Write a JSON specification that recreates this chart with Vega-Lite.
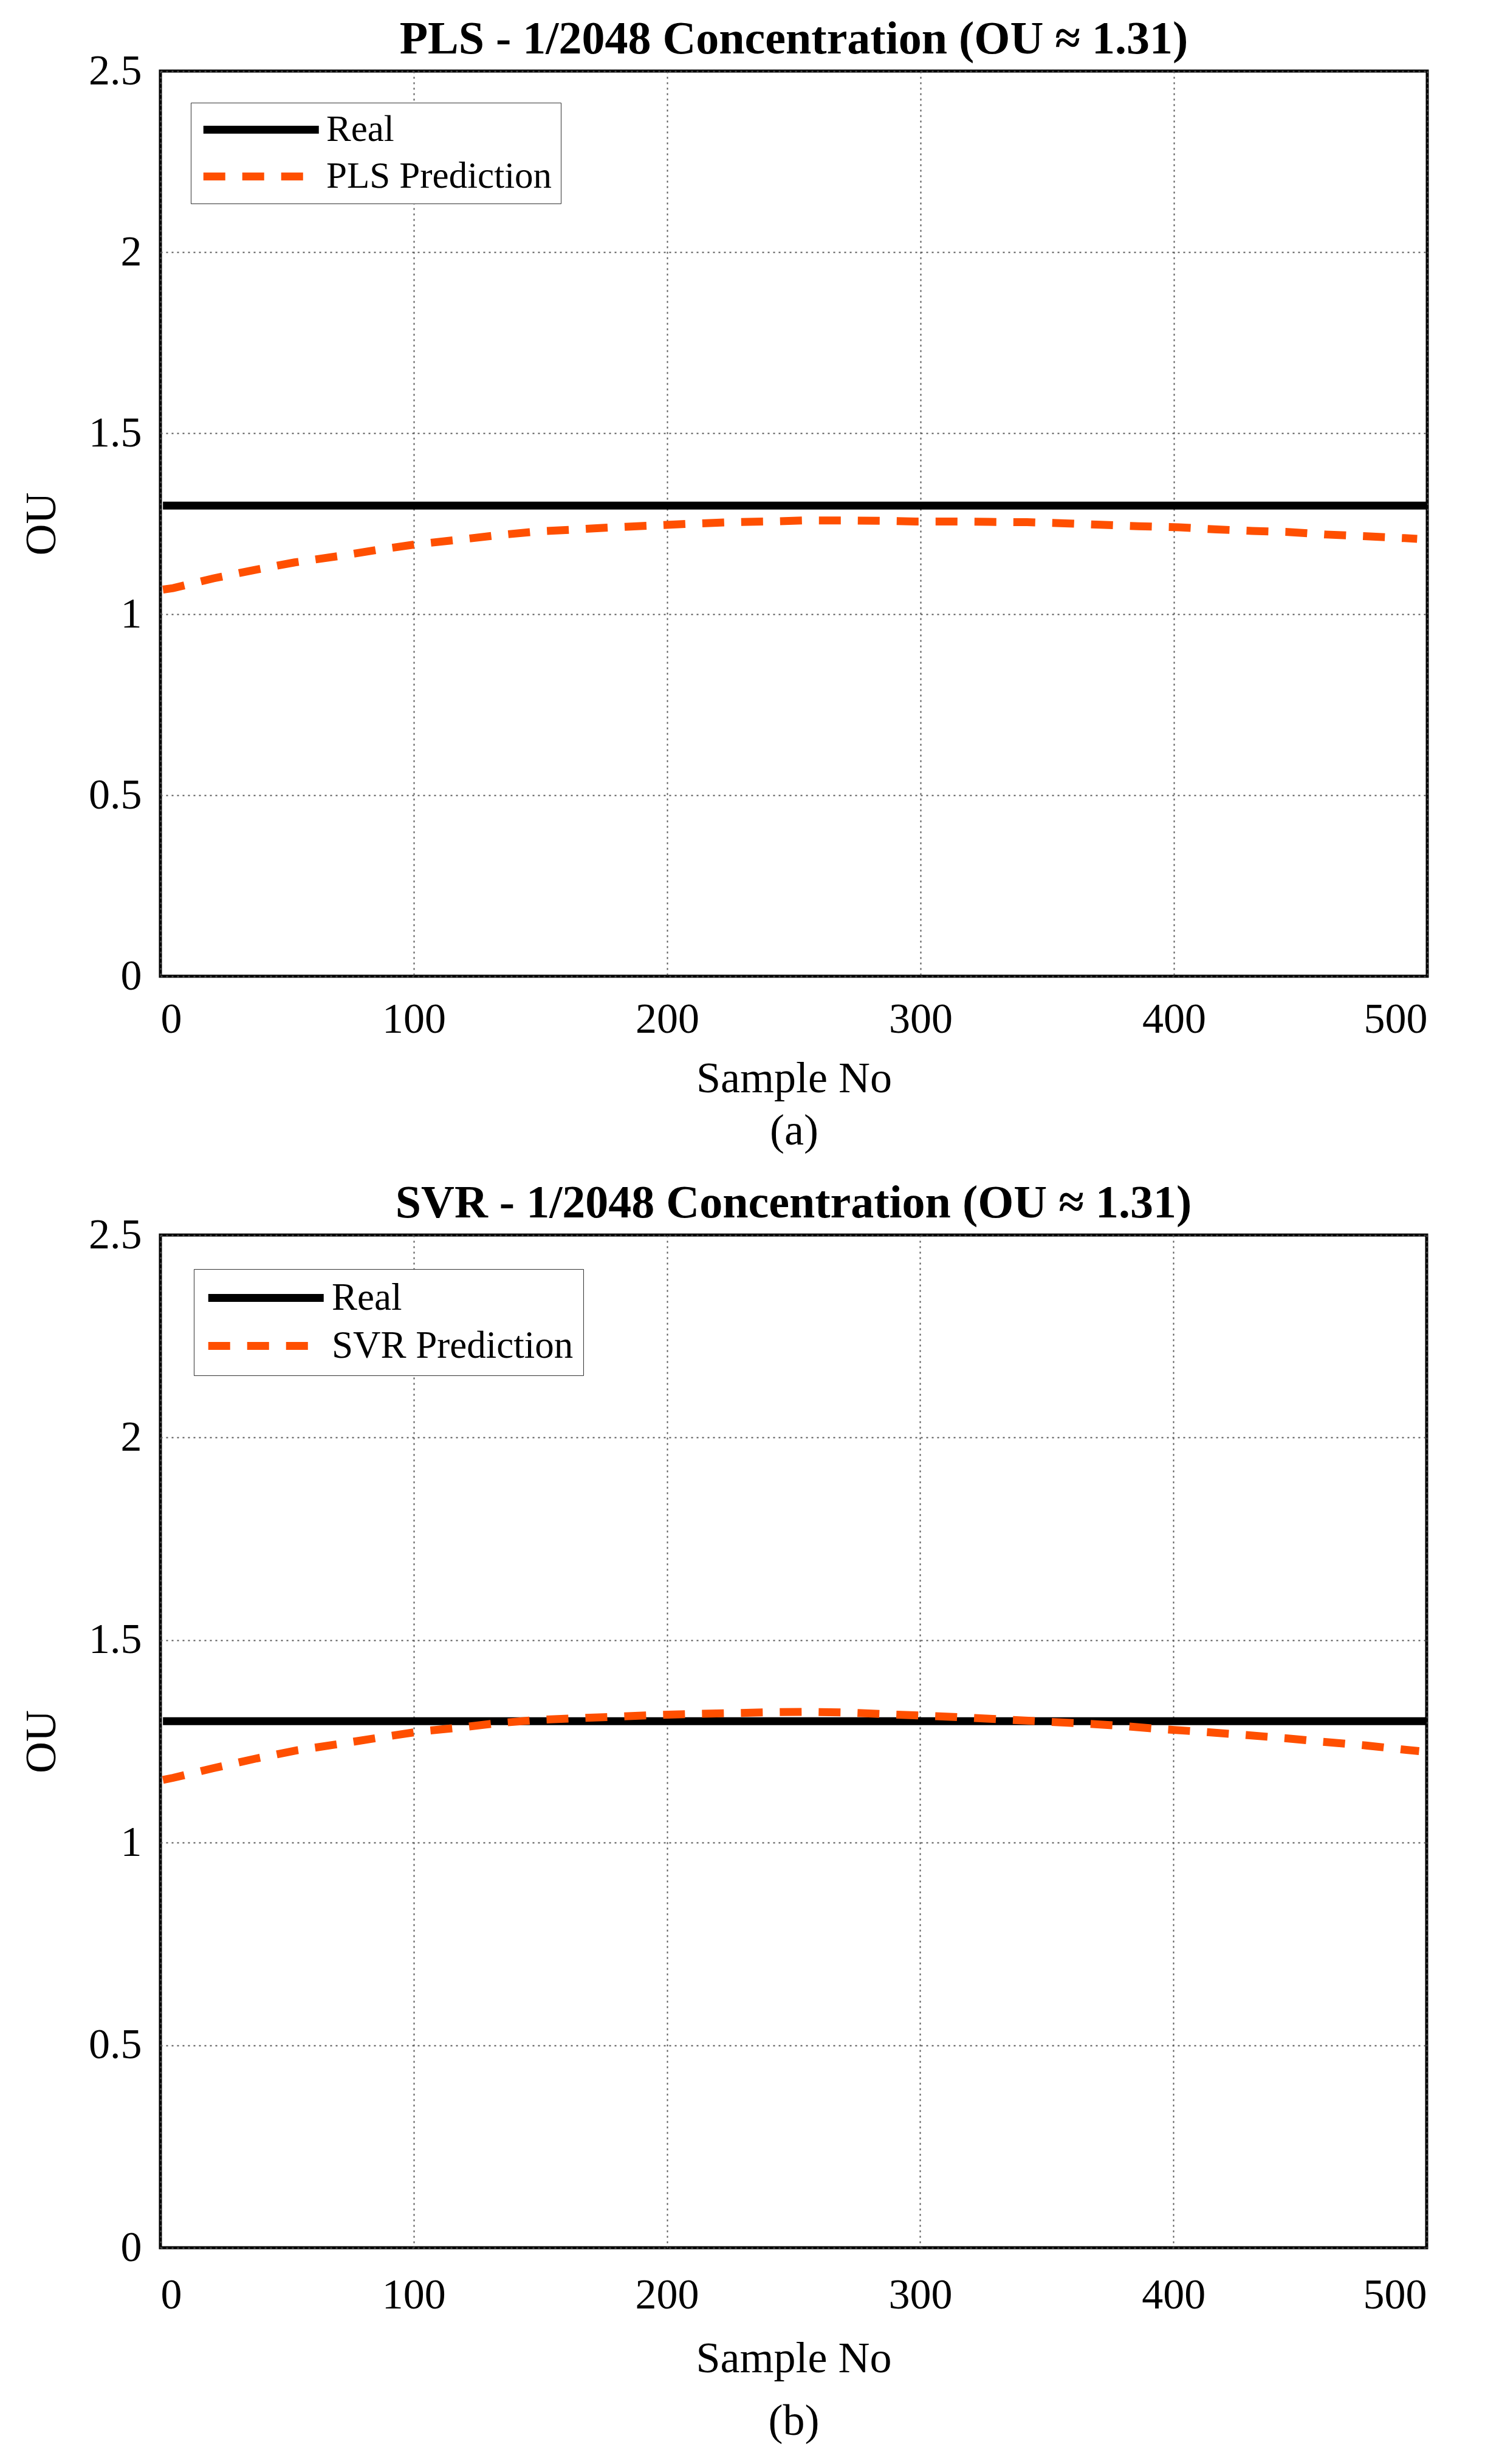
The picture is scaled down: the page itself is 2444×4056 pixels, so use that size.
{
  "$schema": "https://vega.github.io/schema/vega-lite/v6.json",
  "padding": {"left": 30, "top": 24, "right": 40, "bottom": 10},
  "background": "white",
  "spacing": 40,
  "resolve": {
    "scale": {"color": "independent", "strokeDash": "independent"},
    "legend": {"color": "independent", "strokeDash": "independent"}
  },
  "config": {
    "font": "Liberation Serif",
    "view": {"stroke": "black", "strokeWidth": 5},
    "axis": {
      "domain": false,
      "ticks": false,
      "grid": true,
      "gridColor": "#555555",
      "gridDash": [3, 6],
      "gridWidth": 2,
      "labelFont": "Liberation Serif",
      "labelFontSize": 70,
      "labelColor": "black",
      "labelPadding": 31,
      "titleFont": "Liberation Serif",
      "titleFontSize": 72,
      "titleFontWeight": "normal",
      "titleColor": "black"
    },
    "title": {
      "font": "Liberation Serif",
      "fontSize": 76,
      "fontWeight": "bold",
      "color": "black",
      "frame": "group",
      "offset": -22
    },
    "legend": {
      "symbolType": "M-1,0H7",
      "symbolSize": 2256,
      "symbolStrokeWidth": 13,
      "labelFont": "Liberation Serif",
      "labelFontSize": 61,
      "labelColor": "black",
      "labelLimit": 0,
      "labelOffset": 148,
      "strokeColor": "#333333",
      "fillColor": "white",
      "padding": 14,
      "rowPadding": 15
    }
  },
  "datasets": {
    "pls": [
      {"sample": 1, "ou": 1.30, "series": "Real"},
      {"sample": 500, "ou": 1.30, "series": "Real"},
      {"sample": 1, "ou": 1.068, "series": "PLS Prediction"},
      {"sample": 5, "ou": 1.072, "series": "PLS Prediction"},
      {"sample": 21, "ou": 1.099, "series": "PLS Prediction"},
      {"sample": 37, "ou": 1.122, "series": "PLS Prediction"},
      {"sample": 53, "ou": 1.143, "series": "PLS Prediction"},
      {"sample": 70, "ou": 1.160, "series": "PLS Prediction"},
      {"sample": 85, "ou": 1.177, "series": "PLS Prediction"},
      {"sample": 101, "ou": 1.193, "series": "PLS Prediction"},
      {"sample": 117, "ou": 1.205, "series": "PLS Prediction"},
      {"sample": 133, "ou": 1.218, "series": "PLS Prediction"},
      {"sample": 148, "ou": 1.228, "series": "PLS Prediction"},
      {"sample": 164, "ou": 1.234, "series": "PLS Prediction"},
      {"sample": 179, "ou": 1.240, "series": "PLS Prediction"},
      {"sample": 195, "ou": 1.245, "series": "PLS Prediction"},
      {"sample": 210, "ou": 1.250, "series": "PLS Prediction"},
      {"sample": 225, "ou": 1.254, "series": "PLS Prediction"},
      {"sample": 240, "ou": 1.256, "series": "PLS Prediction"},
      {"sample": 255, "ou": 1.259, "series": "PLS Prediction"},
      {"sample": 269, "ou": 1.259, "series": "PLS Prediction"},
      {"sample": 284, "ou": 1.258, "series": "PLS Prediction"},
      {"sample": 298, "ou": 1.256, "series": "PLS Prediction"},
      {"sample": 312, "ou": 1.256, "series": "PLS Prediction"},
      {"sample": 327, "ou": 1.255, "series": "PLS Prediction"},
      {"sample": 342, "ou": 1.254, "series": "PLS Prediction"},
      {"sample": 357, "ou": 1.251, "series": "PLS Prediction"},
      {"sample": 371, "ou": 1.247, "series": "PLS Prediction"},
      {"sample": 386, "ou": 1.243, "series": "PLS Prediction"},
      {"sample": 402, "ou": 1.240, "series": "PLS Prediction"},
      {"sample": 417, "ou": 1.234, "series": "PLS Prediction"},
      {"sample": 431, "ou": 1.230, "series": "PLS Prediction"},
      {"sample": 445, "ou": 1.227, "series": "PLS Prediction"},
      {"sample": 460, "ou": 1.220, "series": "PLS Prediction"},
      {"sample": 476, "ou": 1.215, "series": "PLS Prediction"},
      {"sample": 491, "ou": 1.210, "series": "PLS Prediction"},
      {"sample": 496, "ou": 1.208, "series": "PLS Prediction"}
    ],
    "svr": [
      {"sample": 1, "ou": 1.30, "series": "Real"},
      {"sample": 500, "ou": 1.30, "series": "Real"},
      {"sample": 1, "ou": 1.155, "series": "SVR Prediction"},
      {"sample": 5, "ou": 1.160, "series": "SVR Prediction"},
      {"sample": 21, "ou": 1.184, "series": "SVR Prediction"},
      {"sample": 38, "ou": 1.208, "series": "SVR Prediction"},
      {"sample": 54, "ou": 1.228, "series": "SVR Prediction"},
      {"sample": 70, "ou": 1.243, "series": "SVR Prediction"},
      {"sample": 86, "ou": 1.259, "series": "SVR Prediction"},
      {"sample": 102, "ou": 1.274, "series": "SVR Prediction"},
      {"sample": 118, "ou": 1.284, "series": "SVR Prediction"},
      {"sample": 133, "ou": 1.295, "series": "SVR Prediction"},
      {"sample": 149, "ou": 1.303, "series": "SVR Prediction"},
      {"sample": 164, "ou": 1.307, "series": "SVR Prediction"},
      {"sample": 180, "ou": 1.311, "series": "SVR Prediction"},
      {"sample": 195, "ou": 1.315, "series": "SVR Prediction"},
      {"sample": 211, "ou": 1.318, "series": "SVR Prediction"},
      {"sample": 227, "ou": 1.320, "series": "SVR Prediction"},
      {"sample": 242, "ou": 1.322, "series": "SVR Prediction"},
      {"sample": 256, "ou": 1.323, "series": "SVR Prediction"},
      {"sample": 272, "ou": 1.321, "series": "SVR Prediction"},
      {"sample": 287, "ou": 1.317, "series": "SVR Prediction"},
      {"sample": 303, "ou": 1.313, "series": "SVR Prediction"},
      {"sample": 318, "ou": 1.309, "series": "SVR Prediction"},
      {"sample": 333, "ou": 1.304, "series": "SVR Prediction"},
      {"sample": 349, "ou": 1.299, "series": "SVR Prediction"},
      {"sample": 365, "ou": 1.294, "series": "SVR Prediction"},
      {"sample": 380, "ou": 1.288, "series": "SVR Prediction"},
      {"sample": 396, "ou": 1.280, "series": "SVR Prediction"},
      {"sample": 413, "ou": 1.273, "series": "SVR Prediction"},
      {"sample": 428, "ou": 1.266, "series": "SVR Prediction"},
      {"sample": 444, "ou": 1.258, "series": "SVR Prediction"},
      {"sample": 459, "ou": 1.249, "series": "SVR Prediction"},
      {"sample": 476, "ou": 1.240, "series": "SVR Prediction"},
      {"sample": 492, "ou": 1.229, "series": "SVR Prediction"},
      {"sample": 497, "ou": 1.226, "series": "SVR Prediction"}
    ]
  },
  "vconcat": [
    {
      "width": 2085,
      "height": 1490,
      "title": {"text": "PLS - 1/2048 Concentration (OU ≈ 1.31)"},
      "data": {"name": "pls"},
      "mark": {"type": "line", "strokeWidth": 13, "clip": true},
      "encoding": {
        "x": {
          "field": "sample",
          "type": "quantitative",
          "scale": {"domain": [0, 500], "nice": false},
          "axis": {
            "values": [0, 100, 200, 300, 400, 500],
            "labelPadding": 37,
            "title": ["Sample No", "(a)"],
            "titleLineHeight": 86,
            "titlePadding": 27
          }
        },
        "y": {
          "field": "ou",
          "type": "quantitative",
          "scale": {"domain": [0, 2.5], "nice": false},
          "axis": {
            "values": [0, 0.5, 1, 1.5, 2, 2.5],
            "format": "~g",
            "title": "OU",
            "titlePadding": 40
          }
        },
        "color": {
          "field": "series",
          "type": "nominal",
          "scale": {"domain": ["Real", "PLS Prediction"], "range": ["#000000", "#FF4F00"]},
          "legend": {"title": null, "orient": "none", "legendX": 50, "legendY": 52}
        },
        "strokeDash": {
          "field": "series",
          "type": "nominal",
          "scale": {"domain": ["Real", "PLS Prediction"], "range": [[1, 0], [36, 28]]},
          "legend": {"title": null, "orient": "none", "legendX": 50, "legendY": 52}
        }
      }
    },
    {
      "width": 2084,
      "height": 1667,
      "title": {"text": "SVR - 1/2048 Concentration (OU ≈ 1.31)"},
      "data": {"name": "svr"},
      "mark": {"type": "line", "strokeWidth": 13, "clip": true},
      "encoding": {
        "x": {
          "field": "sample",
          "type": "quantitative",
          "scale": {"domain": [0, 500], "nice": false},
          "axis": {
            "values": [0, 100, 200, 300, 400, 500],
            "labelPadding": 44,
            "title": ["Sample No", "(b)"],
            "titleLineHeight": 103,
            "titlePadding": 34
          }
        },
        "y": {
          "field": "ou",
          "type": "quantitative",
          "scale": {"domain": [0, 2.5], "nice": false},
          "axis": {
            "values": [0, 0.5, 1, 1.5, 2, 2.5],
            "format": "~g",
            "title": "OU",
            "titlePadding": 40
          }
        },
        "color": {
          "field": "series",
          "type": "nominal",
          "scale": {"domain": ["Real", "SVR Prediction"], "range": ["#000000", "#FF4F00"]},
          "legend": {"title": null, "orient": "none", "legendX": 55, "legendY": 56, "labelFontSize": 63, "padding": 16}
        },
        "strokeDash": {
          "field": "series",
          "type": "nominal",
          "scale": {"domain": ["Real", "SVR Prediction"], "range": [[1, 0], [36, 28]]},
          "legend": {"title": null, "orient": "none", "legendX": 55, "legendY": 56, "labelFontSize": 63, "padding": 16}
        }
      }
    }
  ]
}
